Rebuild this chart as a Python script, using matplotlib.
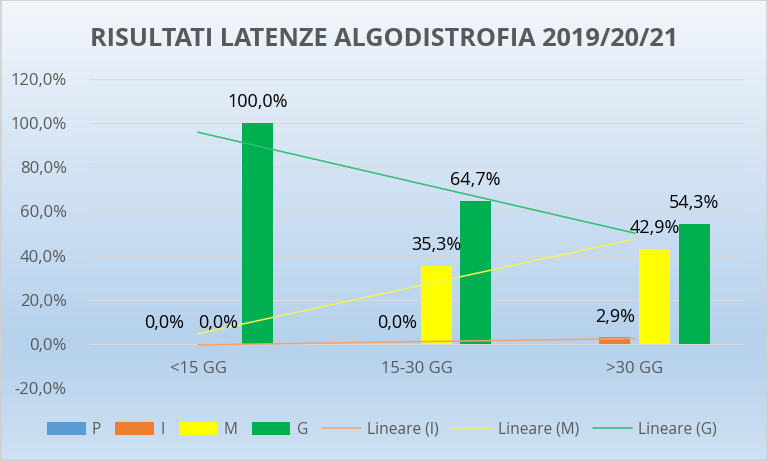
import numpy as np
import matplotlib.pyplot as plt
from matplotlib.colors import LinearSegmentedColormap

categories = ['<15 GG', '15-30 GG', '>30 GG']
series_names = ['P', 'I', 'M', 'G']
p_values = [0.0, 0.0, 0.0]
i_values = [0.0, 0.0, 2.9]
m_values = [0.0, 35.3, 42.9]
g_values = [100.0, 64.7, 54.3]
labeled = {'I': True, 'M': True, 'G': True, 'P': False}
colors = {'P': '#5b9bd5', 'I': '#ed7d31', 'M': '#ffff00', 'G': '#00b050'}
trend_colors = {'I': '#f4a36b', 'M': '#f2f25a', 'G': '#2fbf70'}
yticks = [-20, 0, 20, 40, 60, 80, 100, 120]

text_color = '#595959'
plt.rcParams['font.family'] = ['Open Sans', 'DejaVu Sans']

fig = plt.figure(figsize=(7.68, 4.61), dpi=100)

# sfondo sfumato tipo Excel
bg = fig.add_axes([0, 0, 1, 1], zorder=-10)
cmap = LinearSegmentedColormap.from_list(
    'bg', [(0.0, '#f3f7fc'), (0.25, '#dde9f6'), (0.75, '#b5d1ec'), (1.0, '#cfe1f3')])
grad = np.linspace(0, 1, 256).reshape(-1, 1)
bg.imshow(grad, aspect='auto', cmap=cmap, extent=[0, 1, 1, 0])
bg.set_xlim(0, 1)
bg.set_ylim(1, 0)
bg.axis('off')
bg.add_patch(plt.Rectangle((0.001, 0.001), 0.998, 0.997, fill=False, edgecolor='#d0d0d0', lw=1.2))

ax = fig.add_axes([0.1159, 0.1584, 0.8527, 0.6703])
ax.patch.set_alpha(0)

data = {'P': p_values, 'I': i_values, 'M': m_values, 'G': g_values}
x = np.arange(len(categories))
width = 0.142
step = 0.181
offsets = [-1.5 * step, -0.5 * step, 0.5 * step, 1.5 * step]

handles = []
for name, off in zip(series_names, offsets):
    bars = ax.bar(x + off, data[name], width, color=colors[name], label=name, zorder=3)
    handles.append(bars)
    if labeled[name]:
        for k, (xi, v) in enumerate(zip(x + off, data[name])):
            # la prima etichetta di I e' spostata a sinistra per non sovrapporsi
            dx = -10 if (name == 'I' and k == 0) else 0
            ax.annotate(f"{v:.1f}%".replace('.', ','), (xi, v), xytext=(dx, 15),
                        textcoords='offset points', ha='center', va='center',
                        fontsize=13, color='black', zorder=5)

# linee di tendenza lineari
for name in ['I', 'M', 'G']:
    coef = np.polyfit(x, data[name], 1)
    xs = np.array([x[0], x[-1]])
    line, = ax.plot(xs, np.polyval(coef, xs), color=trend_colors[name], lw=1.1,
                    label=f'Lineare ({name})', zorder=4)
    handles.append(line)

ax.set_xlim(-0.5, 2.5)
ax.set_ylim(-20, 120)
ax.set_yticks(yticks)
ax.set_yticklabels([f"{t:.1f}%".replace('.', ',') for t in yticks])
ax.set_xticks([])
# etichette categorie vicino all'asse dello zero, come in Excel
for xi, cat in zip(x, categories):
    ax.text(xi, -11.5, cat, ha='center', va='center', fontsize=12, color=text_color)
ax.tick_params(axis='both', length=0, labelsize=12, labelcolor=text_color)
ax.tick_params(axis='y', pad=16)
ax.grid(axis='y', color='#d9d9d9', lw=1, zorder=0)
for s in ax.spines.values():
    s.set_visible(False)

fig.text(0.5, 0.915, 'RISULTATI LATENZE ALGODISTROFIA 2019/20/21', ha='center', va='center',
         fontsize=18.2, fontweight='bold', color=text_color)

fig.legend(handles=handles, loc='center', bbox_to_anchor=(0.497, 0.068), ncol=7,
           frameon=False, fontsize=11.2, labelcolor=text_color, handlelength=2.5,
           handleheight=0.9, columnspacing=0.9, handletextpad=0.4)

plt.savefig('out.png', dpi=100)
plt.close()
